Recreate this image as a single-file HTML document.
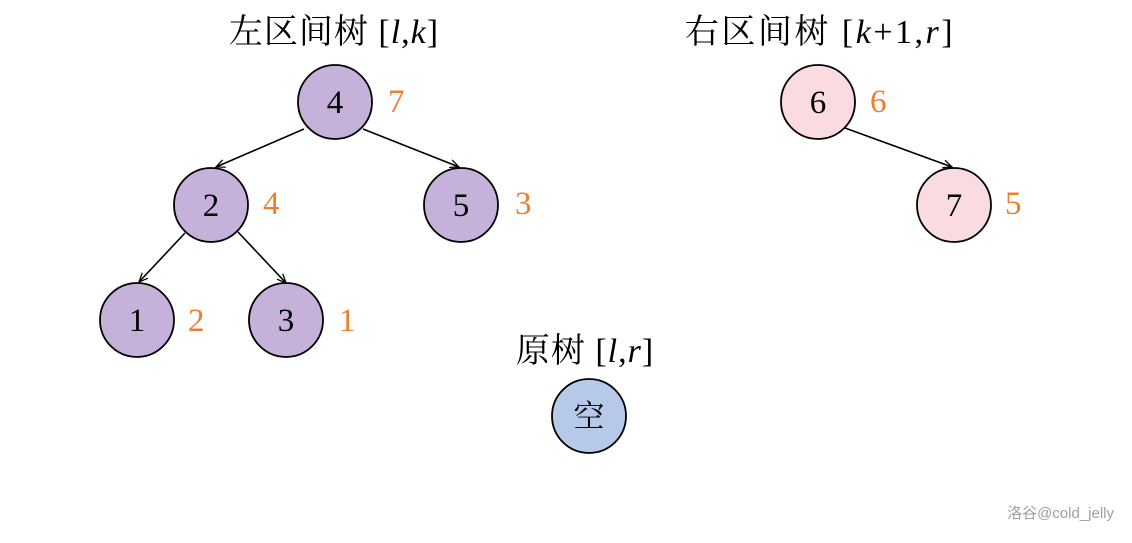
<!DOCTYPE html>
<html><head><meta charset="utf-8"><style>
body{margin:0;background:#fff;width:1132px;height:538px;overflow:hidden}
svg text{font-family:"Liberation Serif","Noto Serif CJK SC",serif}
</style></head><body>
<svg width="1132" height="538" viewBox="0 0 1132 538">
<defs><marker id="a" markerWidth="10" markerHeight="10" refX="9" refY="5" orient="auto" markerUnits="userSpaceOnUse"><path d="M0,1 L9,5 L0,9" fill="none" stroke="#000" stroke-width="1.3"/></marker></defs>
<g stroke="#000" stroke-width="1.6" marker-end="url(#a)">
<line x1="304" y1="129" x2="216" y2="167"/>
<line x1="363" y1="129" x2="459" y2="167"/>
<line x1="185" y1="233" x2="139" y2="282"/>
<line x1="238" y1="232" x2="286" y2="283"/>
<line x1="845" y1="128" x2="952" y2="167"/>
</g>
<g stroke="#000" stroke-width="1.8">
<circle cx="335" cy="102" r="37" fill="#c6b1da"/>
<circle cx="211" cy="205" r="37" fill="#c6b1da"/>
<circle cx="461" cy="205" r="37" fill="#c6b1da"/>
<circle cx="137" cy="320" r="37" fill="#c6b1da"/>
<circle cx="286" cy="320" r="37" fill="#c6b1da"/>
<circle cx="818" cy="102" r="37" fill="#f9dbe0"/>
<circle cx="954" cy="205" r="37" fill="#f9dbe0"/>
<circle cx="589" cy="416" r="37" fill="#b7c9e8"/>
</g>
<g font-size="33" text-anchor="middle" fill="#000">
<text x="335" y="113">4</text><text x="211" y="216">2</text><text x="461" y="216">5</text>
<text x="137" y="331">1</text><text x="286" y="331">3</text>
<text x="818" y="113">6</text><text x="954" y="216">7</text>
<text x="589" y="427" font-size="31">空</text>
</g>
<g font-size="33" fill="#ed7d31">
<text x="388" y="112">7</text><text x="263" y="214">4</text><text x="515" y="214">3</text>
<text x="188" y="331">2</text><text x="339" y="331">1</text>
<text x="870" y="112">6</text><text x="1005" y="214">5</text>
</g>
<g font-size="34" fill="#000" text-anchor="middle">
<text x="334" y="43" letter-spacing="1">左区间树 [<tspan font-style="italic">l</tspan>,<tspan font-style="italic">k</tspan>]</text>
<text x="820" y="43" letter-spacing="2.5">右区间树 [<tspan font-style="italic">k</tspan>+1,<tspan font-style="italic">r</tspan>]</text>
<text x="585" y="362" letter-spacing="1">原树 [<tspan font-style="italic">l</tspan>,<tspan font-style="italic">r</tspan>]</text>
</g>
<text x="1114" y="518" text-anchor="end" font-size="15" fill="#a0a0a0" style="font-family:'Liberation Sans','Noto Sans CJK SC',sans-serif">洛谷@cold_jelly</text>
</svg>
</body></html>
